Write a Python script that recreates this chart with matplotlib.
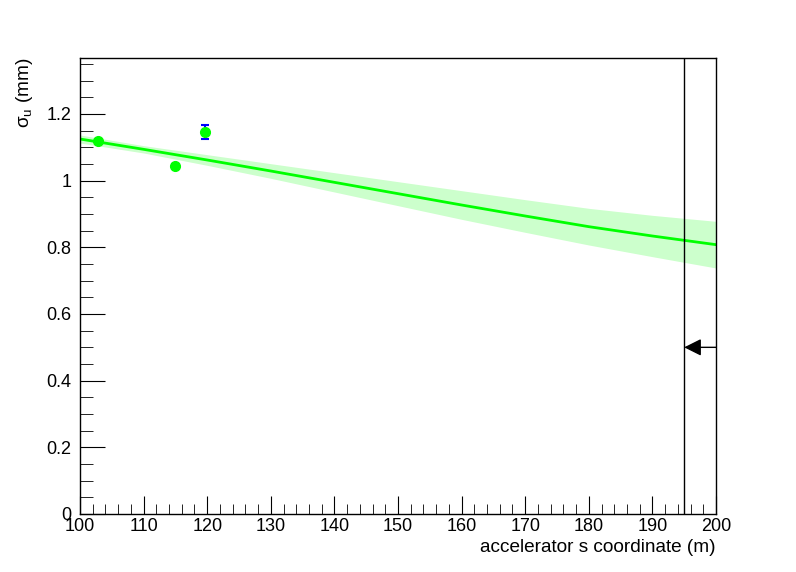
import matplotlib.pyplot as plt
from matplotlib.ticker import MultipleLocator

plt.rcParams['font.family'] = ['Liberation Sans', 'DejaVu Sans']

# measured points
s_pos = [102.8, 114.9, 119.7]
sigma = [1.120, 1.045, 1.147]
sigma_err = [0.004, 0.004, 0.021]

# fit line and confidence band
fit_s = [100, 110, 120, 130, 140, 150, 160, 170, 180, 190, 200]
fit_val = [1.125, 1.094, 1.062, 1.029, 0.995, 0.961, 0.927, 0.894, 0.862, 0.834, 0.808]
fit_err = [0.012, 0.011, 0.016, 0.022, 0.029, 0.036, 0.043, 0.049, 0.055, 0.062, 0.070]

limit_s = 195
arrow_y = 0.5

fig = plt.figure(figsize=(7.96, 5.72), dpi=100)
ax = fig.add_axes([80 / 796, 58 / 572, 636 / 796, 456 / 572])

lo = [v - e for v, e in zip(fit_val, fit_err)]
hi = [v + e for v, e in zip(fit_val, fit_err)]
ax.fill_between(fit_s, lo, hi, color='#ccffcc', lw=0)
ax.plot(fit_s, fit_val, color='#00ff00', lw=2)

ax.errorbar(s_pos, sigma, yerr=sigma_err, fmt='none', ecolor='blue', elinewidth=1.5,
            capsize=3, capthick=1.5)
ax.plot(s_pos, sigma, 'o', color='#00ff00', ms=7, mec='#00ff00')

ax.axvline(limit_s, color='black', lw=1)
ax.annotate('', xy=(limit_s, arrow_y), xytext=(200, arrow_y),
            arrowprops=dict(arrowstyle='-|>', color='black', lw=1,
                            mutation_scale=26, shrinkA=0, shrinkB=0))

ax.set_xlim(100, 200)
ax.set_ylim(0, 1.368)
ax.xaxis.set_major_locator(MultipleLocator(10))
ax.xaxis.set_minor_locator(MultipleLocator(2))
ax.yaxis.set_major_locator(MultipleLocator(0.2))
ax.yaxis.set_minor_locator(MultipleLocator(0.05))
ax.yaxis.set_major_formatter(plt.FuncFormatter(lambda v, p: '%g' % round(v, 2)))
ax.tick_params(which='both', direction='in', top=False, right=False, labelsize=13)
ax.tick_params(axis='x', which='major', length=13, pad=3)
ax.tick_params(axis='x', which='minor', length=7)
ax.tick_params(axis='y', which='major', length=18, pad=6)
ax.tick_params(axis='y', which='minor', length=9)
for sp in ax.spines.values():
    sp.set_linewidth(1)

ax.set_xlabel('accelerator s coordinate (m)', fontsize=13.7, loc='right', labelpad=3)
ax.set_ylabel(r'$\mathregular{\sigma_u}$ (mm)', fontsize=13.7, loc='top', labelpad=8)

fig.savefig('out.png', dpi=100)
